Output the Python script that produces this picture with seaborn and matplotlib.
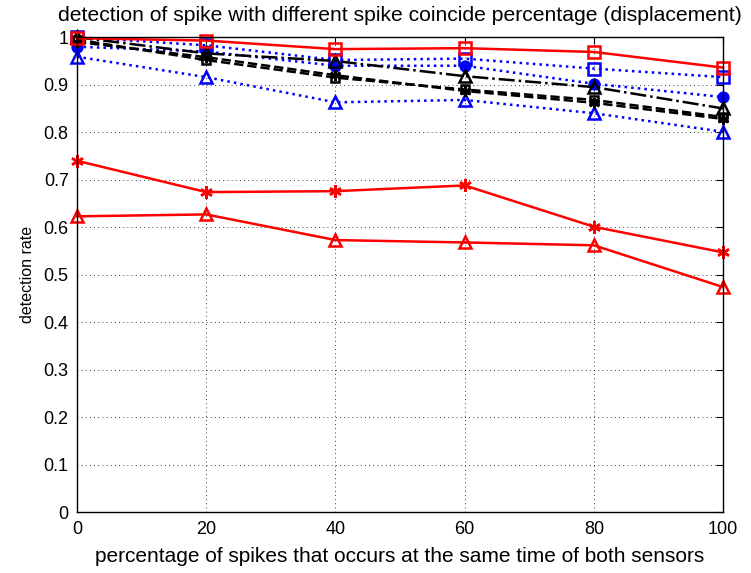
import matplotlib
matplotlib.use("Agg")
import matplotlib.pyplot as plt
import seaborn as sns
import pandas as pd

x = [0, 20, 40, 60, 80, 100]

red_square = [0.998, 0.993, 0.975, 0.977, 0.969, 0.936]
red_star = [0.740, 0.674, 0.676, 0.688, 0.601, 0.547]
red_triangle = [0.623, 0.627, 0.573, 0.568, 0.562, 0.474]

blue_square = [1.000, 0.983, 0.952, 0.955, 0.934, 0.916]
blue_circle = [0.980, 0.970, 0.940, 0.940, 0.902, 0.874]
blue_triangle = [0.959, 0.916, 0.863, 0.868, 0.840, 0.801]

black_triangle = [1.000, 0.966, 0.950, 0.918, 0.895, 0.850]
black_square = [0.995, 0.952, 0.915, 0.890, 0.868, 0.832]
black_star = [0.990, 0.958, 0.920, 0.887, 0.862, 0.828]

title = "detection of spike with different spike coincide percentage (displacement)"
xlabel = "percentage of spikes that occurs at the same time of both sensors"
ylabel = "detection rate"

sns.set_style("white")
plt.rcParams['font.family'] = ['Liberation Sans', 'DejaVu Sans']
plt.rcParams['text.color'] = 'black'
plt.rcParams['axes.labelcolor'] = 'black'
plt.rcParams['xtick.color'] = 'black'
plt.rcParams['ytick.color'] = 'black'

fig = plt.figure(figsize=(7.51, 5.73), dpi=100)
ax = fig.add_axes([0.1025, 0.106, 0.8605, 0.829])

asterisk = (6, 2, 0)
series = [
    (blue_triangle, 'blue', ':', '^', 'none', 9),
    (blue_circle, 'blue', ':', 'o', 'blue', 7),
    (blue_square, 'blue', ':', 's', 'none', 8),
    (black_star, 'black', '--', asterisk, 'black', 8),
    (black_square, 'black', '--', 's', 'none', 6),
    (black_triangle, 'black', '-.', '^', 'none', 8),
    (red_triangle, 'red', '-', '^', 'none', 9),
    (red_star, 'red', '-', asterisk, 'red', 9),
    (red_square, 'red', '-', 's', 'none', 8),
]

for vals, col, ls, mk, fc, ms in series:
    df = pd.DataFrame({'x': x, 'y': vals})
    sns.lineplot(data=df, x='x', y='y', ax=ax, color=col, linestyle=ls,
                 marker=mk, markersize=ms, markerfacecolor=fc,
                 markeredgecolor=col, markeredgewidth=1.8, linewidth=1.8,
                 clip_on=False)

ax.set_xlim(0, 100)
ax.set_ylim(0, 1)
ax.set_xticks(x)
ax.set_xticklabels([str(v) for v in x])
yt = [i / 10 for i in range(11)]
ax.set_yticks(yt)
ax.set_yticklabels(['0'] + [f"{v:.1f}" for v in yt[1:-1]] + ['1'])
ax.grid(True, color='black', linestyle=(0, (1, 4)), linewidth=0.6)
ax.tick_params(direction='in', top=True, right=True, length=5, width=0.8,
               labelsize=13, pad=6, colors='black')
for s in ax.spines.values():
    s.set_color('black')
    s.set_linewidth(1.0)
    s.set_visible(True)

ax.set_title(title, fontsize=15.2, pad=12, color='black')
ax.set_xlabel(xlabel, fontsize=15, labelpad=7, color='black')
ax.set_ylabel(ylabel, fontsize=11.5, labelpad=6, color='black')

fig.savefig("out.png", dpi=100)
